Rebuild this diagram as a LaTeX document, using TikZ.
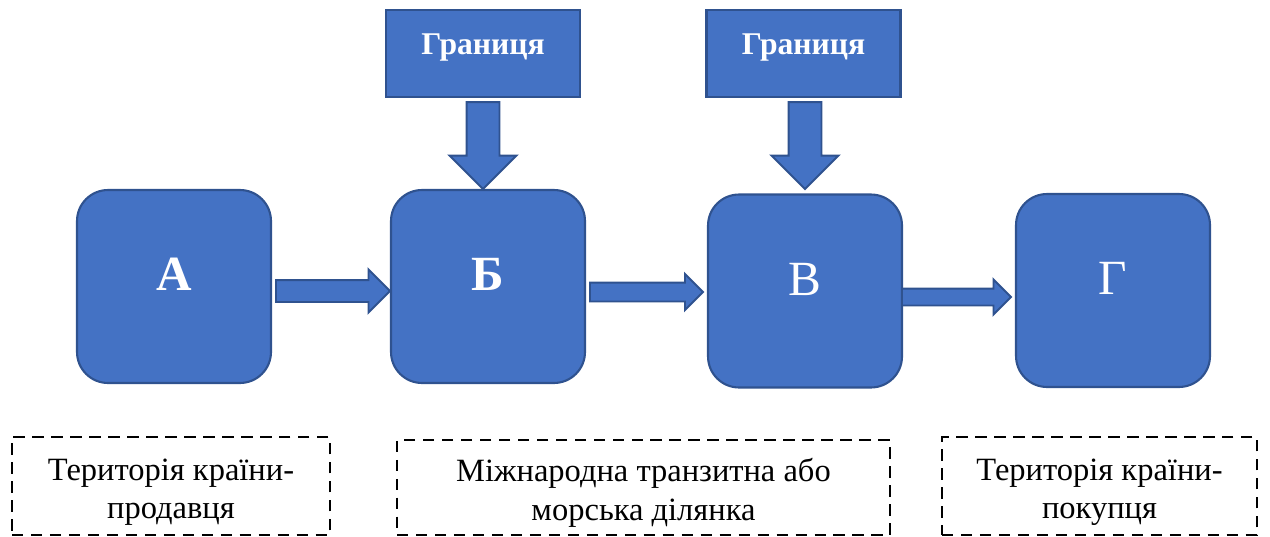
\documentclass[tikz,border=0pt]{standalone}
\usepackage{fontspec}
\setmainfont{Liberation Serif}
\usetikzlibrary{shapes.arrows}
\definecolor{boxblue}{HTML}{4472C4}
\definecolor{boxedge}{HTML}{2F528F}
\begin{document}
\begin{tikzpicture}[x=0.02cm, y=-0.02cm,
    stage/.style={draw=boxedge, line width=1.2pt, fill=boxblue, rounded corners=0.62cm, minimum width=3.88cm, minimum height=3.86cm, inner sep=0pt, text=white, font=\fontsize{28}{30}\selectfont, text height=22pt, text depth=17pt},
    border/.style={draw=boxedge, line width=1.2pt, fill=boxblue, minimum width=3.88cm, minimum height=1.74cm, inner sep=0pt, text=white, font=\bfseries\fontsize{18}{20}\selectfont, text height=13pt, text depth=12pt},
    zone/.style={draw, line width=1.5pt, dash pattern=on 6.5pt off 4.3pt, minimum height=1.96cm, inner sep=0pt, align=center, font=\fontsize{18.5}{21.7}\selectfont, text height=42pt, text depth=5pt},
    flow/.style={single arrow, draw=boxedge, line width=1.1pt, fill=boxblue, inner xsep=0pt, outer sep=0pt, single arrow head indent=0pt}]
    \useasboundingbox (0,0) rectangle (1270,537);

    % stages of the route
    \node[stage] (A) at (174,286.5) {\bfseries А};
    \node[stage] (B) at (488,286.5) {\bfseries Б};
    \node[stage] (V) at (805,291) {В};
    \node[stage] (G) at (1113,290.5) {Г};

    % borders
    \node[border] (b1) at (483,53.5) {Границя};
    \node[border] (b2) at (803.5,53.5) {Границя};

    % territories
    \node[zone, minimum width=6.36cm] (z1) at (171,486) {Територія країни-\\продавця};
    \node[zone, minimum width=9.86cm, minimum height=1.9cm] (z2) at (643.5,487.5) {Міжнародна транзитна або\\морська ділянка};
    \node[zone, minimum width=6.3cm] (z3) at (1099.5,486) {Територія країни-\\покупця};

    % flow arrows
    \node[flow, anchor=tip, minimum height=2.28cm, inner ysep=0.2cm, single arrow head extend=0.21cm] (AB) at ([yshift=-0.09cm]B.west) {};
    \node[flow, anchor=tip, minimum height=2.26cm, inner ysep=0.17cm, single arrow head extend=0.17cm] (BV) at ([xshift=-0.08cm, yshift=-0.02cm]V.west) {};
    \node[flow, anchor=tip, minimum height=2.18cm, inner ysep=0.15cm, single arrow head extend=0.18cm] (VG) at ([xshift=-0.08cm, yshift=-0.13cm]G.west) {};
    \node[flow, anchor=tail, rotate=-90, minimum height=1.74cm, inner ysep=0.31cm, single arrow head extend=0.34cm] (b1B) at ([yshift=-0.08cm]b1.south) {};
    \node[flow, anchor=tail, rotate=-90, minimum height=1.74cm, inner ysep=0.31cm, single arrow head extend=0.34cm] (b2V) at ([xshift=0.03cm, yshift=-0.08cm]b2.south) {};
\end{tikzpicture}
\end{document}
